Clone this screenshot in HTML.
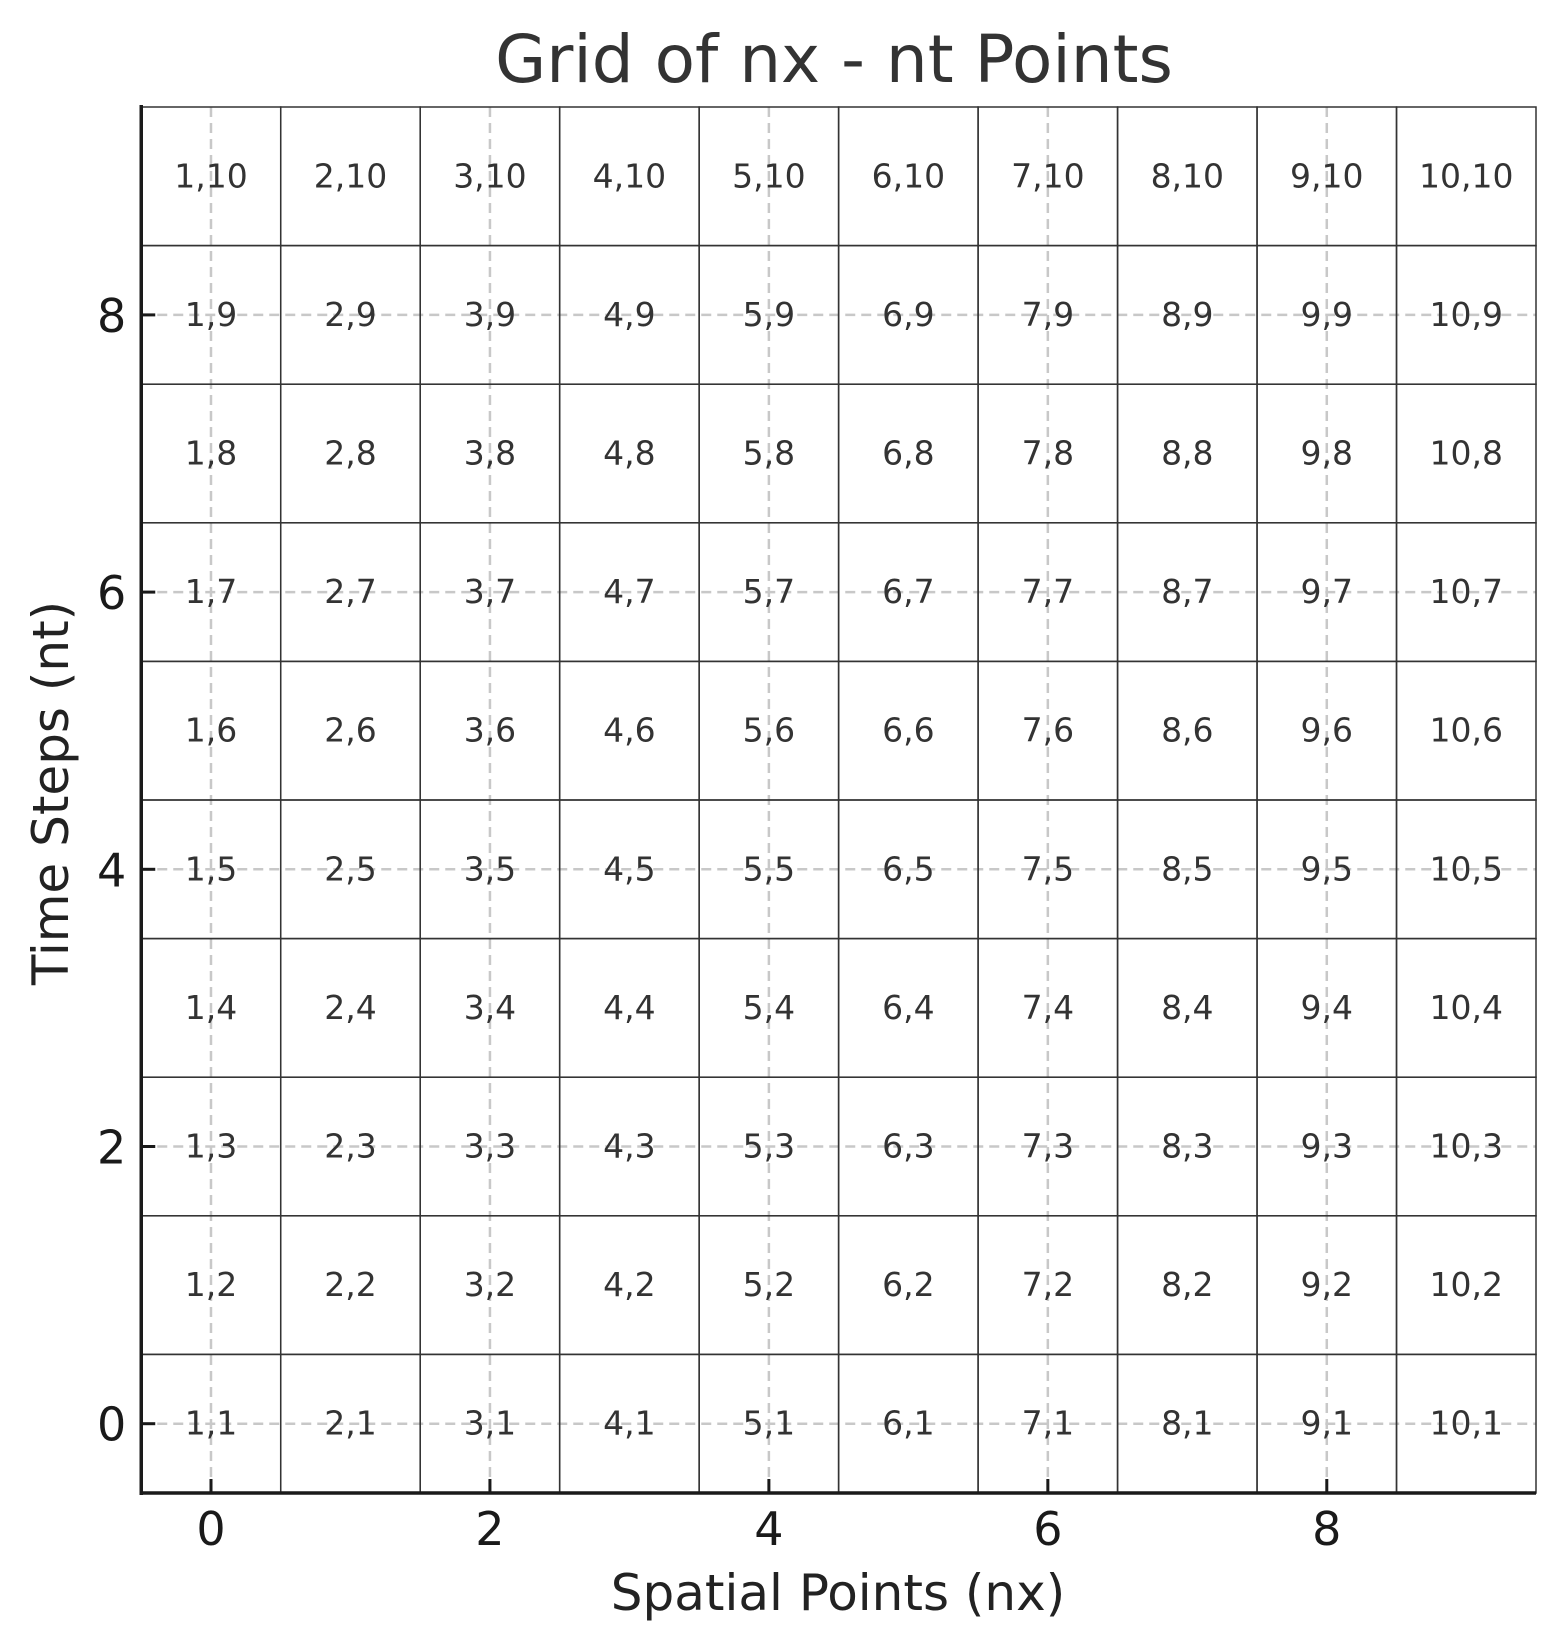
<!DOCTYPE html>
<html><head><meta charset="utf-8"><style>
html,body{margin:0;padding:0;background:#fff;}
svg{display:block;font-family:"DejaVu Sans","Liberation Sans",sans-serif;}
</style></head><body>
<svg id="chart" width="1566" height="1650" viewBox="0 0 1566 1650">
<text x="834" y="82" font-size="66" fill="#333" text-anchor="middle">Grid of nx - nt Points</text>
<g id="grid"></g><g id="cells"></g><g id="axes"></g>
<text x="838" y="1610" font-size="50" fill="#222" text-anchor="middle">Spatial Points (nx)</text>
<text transform="translate(68,793) rotate(-90)" font-size="50" fill="#222" text-anchor="middle">Time Steps (nt)</text>
</svg>
<script>
const nxPoints = [1,2,3,4,5,6,7,8,9,10];
const ntPoints = [1,2,3,4,5,6,7,8,9,10];
const xTicks = [0,2,4,6,8];
const yTicks = [0,2,4,6,8];
const NS='http://www.w3.org/2000/svg';
const L=141.25,R=1536,T=107,B=1493;
const sx=v=>L+(v+0.5)*(R-L)/10;
const sy=v=>B-(v+0.5)*(B-T)/10;
function mk(tag,attrs,parent,text){const e=document.createElementNS(NS,tag);for(const k in attrs)e.setAttribute(k,attrs[k]);if(text!==undefined)e.textContent=text;parent.appendChild(e);return e;}
const grid=document.getElementById('grid'),cells=document.getElementById('cells'),axes=document.getElementById('axes');
xTicks.forEach(t=>{const l=mk('line',{x1:sx(t),x2:sx(t),y1:T,y2:B,stroke:'#c8c8c8','stroke-width':2.5,'stroke-dasharray':'10,6'},grid);

});
yTicks.forEach(t=>{const l=mk('line',{x1:L,x2:R,y1:sy(t),y2:sy(t),stroke:'#c8c8c8','stroke-width':2.5,'stroke-dasharray':'10,6'},grid);

});
nxPoints.forEach((nx,i)=>{ntPoints.forEach((nt,j)=>{
const r=mk('rect',{x:sx(i-0.5),y:sy(j+0.5),width:sx(i+0.5)-sx(i-0.5),height:sy(j-0.5)-sy(j+0.5),fill:'none',stroke:'#333','stroke-width':1.5},cells);


const t=mk('text',{x:sx(i),y:sy(j)+11,'font-size':33,fill:'#333','text-anchor':'middle'},cells,nx+','+nt);


});});
const ax=mk('line',{x1:L,x2:R,y1:B,y2:B,stroke:'#1a1a1a','stroke-width':3.5},axes);


const ay=mk('line',{x1:L,x2:L,y1:T-2,y2:B+2,stroke:'#1a1a1a','stroke-width':3.5},axes);


xTicks.forEach(t=>{const m=mk('line',{x1:sx(t),x2:sx(t),y1:B,y2:B-14,stroke:'#1a1a1a','stroke-width':3},axes);


const tx=mk('text',{x:sx(t),y:B+52,'font-size':46,fill:'#1a1a1a','text-anchor':'middle'},axes,String(t));

});
yTicks.forEach(t=>{const m=mk('line',{x1:L,x2:L+14,y1:sy(t),y2:sy(t),stroke:'#1a1a1a','stroke-width':3},axes);


const tx=mk('text',{x:L-15,y:sy(t)+17,'font-size':46,fill:'#1a1a1a','text-anchor':'end'},axes,String(t));

});
</script>
</body></html>
